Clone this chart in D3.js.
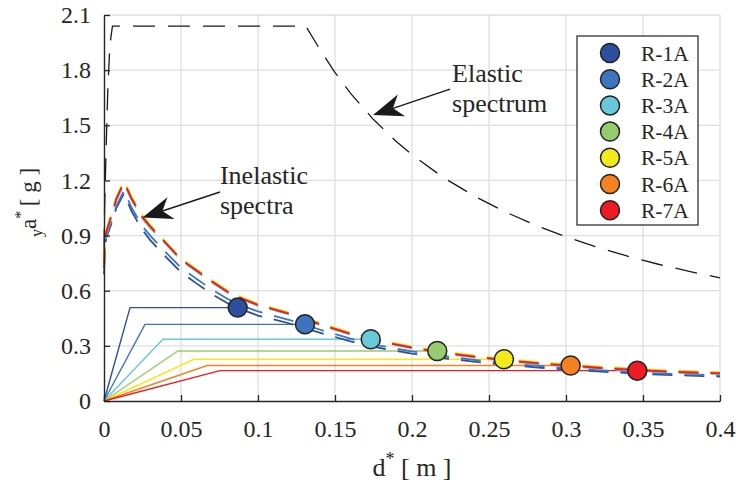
<!DOCTYPE html>
<html>
<head>
<meta charset="utf-8">
<script src="https://cdn.jsdelivr.net/npm/d3@7"></script>
<style>
  body { margin: 0; background: #fff; }
</style>
</head>
<body>
<svg id="chart" width="738" height="485"></svg>
<script>
// ---- data ----
const seriesNames = ["R-1A", "R-2A", "R-3A", "R-4A", "R-5A", "R-6A", "R-7A"];
const seriesColors = ["#2E4E9E", "#3D74BF", "#67C9DA", "#96CC6E", "#F3EA1B", "#F58220", "#ED1C24"];

// performance points (displacement d*, acceleration a*)
const perfD = [0.0868, 0.1305, 0.1732, 0.2164, 0.2597, 0.303, 0.3463];
const perfA = [0.508, 0.417, 0.336, 0.272, 0.227, 0.193, 0.165];
// yield displacement of each bilinear capacity curve
const yieldD = [0.0169, 0.0266, 0.0383, 0.048, 0.0584, 0.067, 0.0753];

// elastic demand spectrum
const elasticD = [0, 0.0004, 0.001, 0.0018, 0.0025, 0.0035, 0.0045, 0.0055, 0.131, 0.14, 0.15, 0.16, 0.175,
                  0.19, 0.2, 0.22, 0.24, 0.26, 0.28, 0.3, 0.32, 0.34, 0.36, 0.38, 0.4];
const elasticA = [0.82, 1.05, 1.25, 1.5, 1.7, 1.88, 1.98, 2.04, 2.04, 1.915, 1.787, 1.675, 1.531,
                  1.41, 1.34, 1.218, 1.117, 1.031, 0.957, 0.893, 0.838, 0.788, 0.744, 0.705, 0.67];

// inelastic demand spectra, one per series, on a shared displacement grid
const inelasticD = [0, 0.0004, 0.0015, 0.006, 0.008, 0.013, 0.018, 0.025, 0.03, 0.04, 0.05, 0.06, 0.07, 0.08,
                    0.09, 0.1, 0.12, 0.14, 0.16, 0.18, 0.2, 0.22, 0.24, 0.26, 0.28, 0.3, 0.32, 0.34, 0.36, 0.38, 0.4];
const inelasticR1A = [0.69, 0.82, 0.89, 0.99, 1.05, 1.13, 1.03, 0.93, 0.875, 0.785, 0.70, 0.64, 0.582, 0.533,
                      0.495, 0.465, 0.423, 0.372, 0.325, 0.287, 0.258, 0.234, 0.214, 0.198, 0.183, 0.172, 0.161, 0.152, 0.144, 0.138, 0.133];
const inelasticR2A = [0.70, 0.83, 0.90, 1.00, 1.06, 1.145, 1.05, 0.95, 0.90, 0.81, 0.725, 0.665, 0.607, 0.556,
                      0.518, 0.487, 0.442, 0.389, 0.339, 0.300, 0.270, 0.245, 0.224, 0.206, 0.192, 0.179, 0.168, 0.159, 0.151, 0.144, 0.14];
const inelasticR3A = [0.71, 0.84, 0.91, 1.03, 1.09, 1.18, 1.09, 0.99, 0.94, 0.855, 0.765, 0.705, 0.645, 0.59,
                      0.551, 0.518, 0.471, 0.414, 0.361, 0.319, 0.286, 0.259, 0.237, 0.218, 0.202, 0.189, 0.177, 0.167, 0.158, 0.151, 0.146];
const inelasticR4A = [0.72, 0.85, 0.92, 1.04, 1.10, 1.19, 1.10, 1.00, 0.95, 0.862, 0.772, 0.712, 0.652, 0.597,
                      0.557, 0.524, 0.477, 0.42, 0.367, 0.325, 0.292, 0.265, 0.243, 0.224, 0.208, 0.195, 0.183, 0.173, 0.164, 0.157, 0.152];
const inelasticR5A = [0.73, 0.86, 0.93, 1.05, 1.11, 1.20, 1.11, 1.01, 0.96, 0.867, 0.777, 0.717, 0.657, 0.602,
                      0.562, 0.529, 0.482, 0.425, 0.372, 0.33, 0.297, 0.27, 0.248, 0.229, 0.213, 0.2, 0.188, 0.178, 0.169, 0.162, 0.157];
const inelasticR6A = [0.72, 0.85, 0.92, 1.04, 1.10, 1.19, 1.10, 1.00, 0.95, 0.863, 0.773, 0.713, 0.653, 0.598,
                      0.558, 0.525, 0.478, 0.421, 0.368, 0.326, 0.293, 0.266, 0.244, 0.225, 0.209, 0.196, 0.184, 0.174, 0.165, 0.158, 0.153];
const inelasticR7A = [0.72, 0.85, 0.92, 1.04, 1.10, 1.19, 1.10, 1.00, 0.95, 0.86, 0.77, 0.71, 0.65, 0.595,
                      0.555, 0.522, 0.475, 0.418, 0.365, 0.323, 0.29, 0.263, 0.241, 0.222, 0.206, 0.193, 0.181, 0.171, 0.162, 0.155, 0.15];
const inelasticA = [inelasticR1A, inelasticR2A, inelasticR3A, inelasticR4A, inelasticR5A, inelasticR6A, inelasticR7A];

const dTicks = [0, 0.05, 0.1, 0.15, 0.2, 0.25, 0.3, 0.35, 0.4];
const dTickLabels = ["0", "0.05", "0.1", "0.15", "0.2", "0.25", "0.3", "0.35", "0.4"];
const aTicks = [0, 0.3, 0.6, 0.9, 1.2, 1.5, 1.8, 2.1];
const aTickLabels = ["0", "0.3", "0.6", "0.9", "1.2", "1.5", "1.8", "2.1"];

// ---- layout ----
const FONT = "'Liberation Serif', 'Times New Roman', Tinos, 'DejaVu Serif', serif";
const svg = d3.select("#chart");
const x = d3.scaleLinear().domain([0, 0.4]).range([104, 720]);
const y = d3.scaleLinear().domain([0, 2.1]).range([401, 15]);
const axisColor = "#262626";

// grid
const grid = svg.append("g");
grid.selectAll("line.v").data(dTicks.slice(1)).join("line")
  .attr("x1", d => x(d)).attr("x2", d => x(d)).attr("y1", y(0)).attr("y2", y(2.1))
  .attr("stroke", "#dfdfdf").attr("stroke-width", 1.3);
grid.selectAll("line.h").data(aTicks.slice(1)).join("line")
  .attr("y1", d => y(d)).attr("y2", d => y(d)).attr("x1", x(0)).attr("x2", x(0.4))
  .attr("stroke", "#dfdfdf").attr("stroke-width", 1.3);

// axes
const xAxis = d3.axisBottom(x).tickValues(dTicks).tickFormat((d, i) => dTickLabels[i])
  .tickSizeInner(-6).tickSizeOuter(0).tickPadding(19);
const yAxis = d3.axisLeft(y).tickValues(aTicks).tickFormat((d, i) => aTickLabels[i])
  .tickSizeInner(-6).tickSizeOuter(0).tickPadding(13);

function styleAxis(g) {
  g.attr("font-family", FONT).attr("font-size", 24);
  g.select(".domain").attr("stroke", axisColor).attr("stroke-width", 1.4);
  g.selectAll(".tick line").attr("stroke", axisColor).attr("stroke-width", 1.3);
  g.selectAll(".tick text").style("font-family", FONT).attr("fill", axisColor);
}

// bilinear capacity curves
const lineGen = d3.line().x(p => x(p[0])).y(p => y(p[1]));
const capG = svg.append("g");
seriesNames.forEach((n, i) => {
  const pts = [[0, 0], [yieldD[i], perfA[i]], [perfD[i], perfA[i]]];
  capG.append("path").attr("d", lineGen(pts)).attr("fill", "none")
    .attr("stroke", seriesColors[i]).attr("stroke-width", 1.4);
});

// elastic spectrum
svg.append("path")
  .attr("d", lineGen(elasticD.map((d, i) => [d, elasticA[i]])))
  .attr("fill", "none").attr("stroke", "#1a1a1a").attr("stroke-width", 1.3)
  .attr("stroke-dasharray", "22,13");

// inelastic spectra
const inelG = svg.append("g");
seriesNames.forEach((n, i) => {
  inelG.append("path")
    .attr("d", lineGen(inelasticD.map((d, k) => [d, inelasticA[i][k]])))
    .attr("fill", "none").attr("stroke", seriesColors[i]).attr("stroke-width", 1.8)
    .attr("stroke-dasharray", "20,12");
});

// axes drawn above the curves
svg.append("g").attr("transform", `translate(0,${y(0)})`).call(xAxis).call(styleAxis);
svg.append("g").attr("transform", `translate(${x(0)},0)`).call(yAxis).call(styleAxis);

// performance points
svg.append("g").selectAll("circle").data(seriesNames).join("circle")
  .attr("cx", (d, i) => x(perfD[i])).attr("cy", (d, i) => y(perfA[i])).attr("r", 9.5)
  .attr("fill", (d, i) => seriesColors[i]).attr("stroke", "#222").attr("stroke-width", 1.5);

function label(sel) {
  return sel.style("font-family", FONT).attr("fill", axisColor);
}

// axis titles
const xt = label(svg.append("text")).attr("x", (x(0) + x(0.4)) / 2).attr("y", 476)
  .attr("text-anchor", "middle").attr("font-size", 26);
xt.append("tspan").text("d");
xt.append("tspan").text("*").attr("font-size", 18).attr("dy", -11);
xt.append("tspan").text(" [ m ]").attr("dy", 11);

// rotated y title: subscript set just below the "a", star just above it
const ytG = svg.append("g").attr("transform", `translate(36,203) rotate(-90)`);
const ytStart = -34;
const yt = label(ytG.append("text")).attr("font-size", 23);
yt.append("tspan").attr("x", ytStart + 8).attr("y", 0).text("a");
yt.append("tspan").attr("x", ytStart + 18.2).attr("y", -10).attr("font-size", 16).text("*");
yt.append("tspan").attr("x", ytStart).attr("y", 6).attr("font-size", 16).text("y");
yt.append("tspan").attr("x", ytStart + 25).attr("y", 0).text(" [ g ]");

// annotations with arrows
function arrow(tail, tip) {
  const x0 = x(tail[0]), y0 = y(tail[1]), x1 = x(tip[0]), y1 = y(tip[1]);
  const len = Math.hypot(x1 - x0, y1 - y0);
  const ux = (x1 - x0) / len, uy = (y1 - y0) / len, nx = -uy, ny = ux;
  const L = 30, W = 11.5, notch = 9;
  const bx = x1 - ux * (L - notch), by = y1 - uy * (L - notch);
  svg.append("line").attr("x1", x0).attr("y1", y0).attr("x2", bx).attr("y2", by)
    .attr("stroke", "#1a1a1a").attr("stroke-width", 1.4);
  const head = [[x1, y1], [x1 - ux * L + nx * W, y1 - uy * L + ny * W], [bx, by],
                [x1 - ux * L - nx * W, y1 - uy * L - ny * W]];
  svg.append("path").attr("d", "M" + head.map(p => p.join(",")).join("L") + "Z").attr("fill", "#1a1a1a");
}
function note(pos, lines) {
  const t = label(svg.append("text")).attr("x", x(pos[0])).attr("y", y(pos[1])).attr("font-size", 26);
  lines.forEach((s, i) => t.append("tspan").attr("x", x(pos[0])).attr("dy", i ? 30 : 0).text(s));
}
arrow([0.2247, 1.697], [0.1747, 1.556]);
note([0.226, 1.735], ["Elastic", "spectrum"]);
arrow([0.0753, 1.137], [0.025, 0.998]);
note([0.0753, 1.18], ["Inelastic", "spectra"]);

// legend
const lg = svg.append("g").attr("transform", "translate(577,36)");
lg.append("rect").attr("width", 121).attr("height", 189).attr("fill", "#fff")
  .attr("stroke", "#333").attr("stroke-width", 1.3);
seriesNames.forEach((n, i) => {
  const cy = 17 + i * 26.2;
  lg.append("circle").attr("cx", 33).attr("cy", cy).attr("r", 9.5)
    .attr("fill", seriesColors[i]).attr("stroke", "#222").attr("stroke-width", 1.5);
  label(lg.append("text")).attr("x", 64).attr("y", cy).attr("dy", "0.35em")
    .attr("font-size", 21.5).text(n);
});
</script>
</body>
</html>
